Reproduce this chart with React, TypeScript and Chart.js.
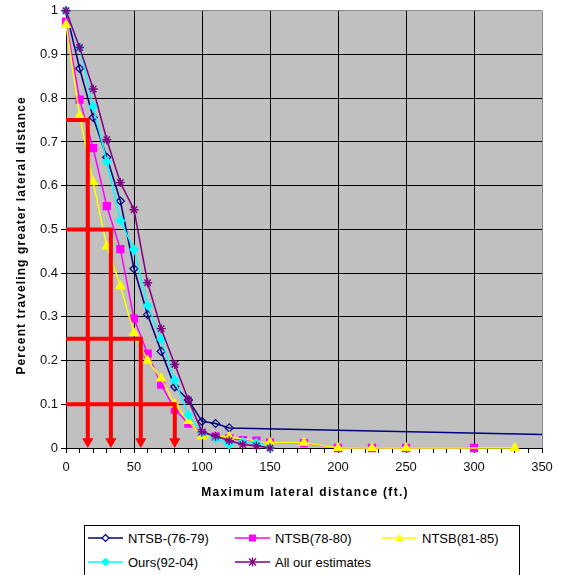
import React, { useEffect, useRef } from "react";
import { Chart, registerables } from "chart.js";
Chart.register(...registerables);

// ---- data ----
const xNTSB7679 = [0, 10, 20, 30, 40, 50, 60, 70, 80, 90, 100, 110, 120, 350];
const yNTSB7679 = [1.0, 0.868, 0.756, 0.665, 0.565, 0.41, 0.305, 0.221, 0.14, 0.11, 0.061, 0.056, 0.046, 0.031];

const xNTSB7880 = [0, 10, 20, 30, 40, 50, 60, 70, 80, 90, 100, 110, 120, 130, 140, 150, 175, 200, 225, 250, 300];
const yNTSB7880 = [0.975, 0.797, 0.686, 0.553, 0.455, 0.296, 0.216, 0.145, 0.088, 0.056, 0.034, 0.026, 0.022, 0.018, 0.017, 0.012, 0.011, 0, 0, 0, 0];

const xNTSB8185 = [0, 10, 20, 30, 40, 50, 60, 70, 80, 90, 100, 120, 150, 175, 200, 225, 250, 330];
const yNTSB8185 = [0.968, 0.76, 0.608, 0.461, 0.37, 0.263, 0.2, 0.159, 0.1, 0.062, 0.027, 0.025, 0.012, 0.012, 0, 0, 0, 0];

const xOurs = [0, 10, 20, 30, 40, 50, 60, 70, 80, 90, 100, 110, 120, 130, 140, 150];
const yOurs = [1.0, 0.916, 0.781, 0.655, 0.52, 0.454, 0.326, 0.249, 0.155, 0.075, 0.035, 0.022, 0.008, 0.015, 0.012, 0];

const xAll = [0, 10, 20, 30, 40, 50, 60, 70, 80, 90, 100, 110, 120, 130, 140, 150];
const yAll = [1.0, 0.916, 0.821, 0.705, 0.607, 0.545, 0.378, 0.273, 0.191, 0.11, 0.037, 0.027, 0.017, 0.008, 0.005, 0];

// red arrow guides: level and distance where each drops to the axis
const arrowLevels = [0.75, 0.5, 0.25, 0.1];
const arrowDistances = [16, 33, 55, 80];
const arrowTipValue = 0.015;

const seriesNames = ["NTSB-(76-79)", "NTSB(78-80)", "NTSB(81-85)", "Ours(92-04)", "All our estimates"];
const xTickValues = [0, 50, 100, 150, 200, 250, 300, 350];
const xTitle = "Maximum lateral distance (ft.)";
const yTitle = "Percent traveling greater lateral distance";

const NAVY = "#000080";
const MAGENTA = "#ff00ff";
const YELLOW = "#ffff00";
const CYAN = "#00ffff";
const PURPLE = "#800080";
const RED = "#ff0000";

const FONT = "'Liberation Sans', Arial, sans-serif";

const zip = (xs: number[], ys: number[]) => xs.map((x, i) => ({ x, y: ys[i] }));

const plotBg = {
  id: "plotBg",
  beforeDraw(chart: any) {
    const { ctx, chartArea } = chart;
    if (!chartArea) return;
    ctx.save();
    ctx.fillStyle = "#c0c0c0";
    ctx.fillRect(chartArea.left, chartArea.top, chartArea.right - chartArea.left, chartArea.bottom - chartArea.top);
    ctx.restore();
  },
};

// axis titles, drawn with the wide letter spacing of the original
const axisTitles = {
  id: "axisTitles",
  afterDraw(chart: any) {
    const { ctx, chartArea } = chart;
    if (!chartArea) return;
    ctx.save();
    ctx.font = `bold 12px ${FONT}`;
    ctx.fillStyle = "#000";
    ctx.textAlign = "center";
    ctx.textBaseline = "middle";
    (ctx as any).letterSpacing = "1.3px";
    ctx.fillText(xTitle, (chartArea.left + chartArea.right) / 2 + 1, chartArea.bottom + 45);
    (ctx as any).letterSpacing = "1.1px";
    ctx.translate(22, (chartArea.top + chartArea.bottom) / 2 + 6);
    ctx.rotate(-Math.PI / 2);
    ctx.fillText(yTitle, 0, 0);
    ctx.restore();
  },
};

function LegendMarker({ kind, color }: { kind: string; color: string }) {
  const cx = 17.5;
  const cy = 8;
  let marker: any = null;
  if (kind === "diamondHollow") {
    marker = <polygon points={`${cx},${cy - 3.5} ${cx + 3.5},${cy} ${cx},${cy + 3.5} ${cx - 3.5},${cy}`} fill="#fff" stroke={color} strokeWidth={1.2} />;
  } else if (kind === "diamond") {
    marker = <polygon points={`${cx},${cy - 4} ${cx + 4},${cy} ${cx},${cy + 4} ${cx - 4},${cy}`} fill={color} stroke={color} strokeWidth={1} />;
  } else if (kind === "square") {
    marker = <rect x={cx - 3.5} y={cy - 3.5} width={7} height={7} fill={color} />;
  } else if (kind === "triangle") {
    marker = <polygon points={`${cx},${cy - 4.5} ${cx + 4.3},${cy + 3} ${cx - 4.3},${cy + 3}`} fill={color} />;
  } else if (kind === "star") {
    marker = (
      <g stroke={color} strokeWidth={1.4}>
        <line x1={cx} y1={cy - 4.5} x2={cx} y2={cy + 4.5} />
        <line x1={cx - 3.5} y1={cy - 3.5} x2={cx + 3.5} y2={cy + 3.5} />
        <line x1={cx - 3.5} y1={cy + 3.5} x2={cx + 3.5} y2={cy - 3.5} />
      </g>
    );
  }
  return (
    <svg width={36} height={16} style={{ display: "block" }}>
      <line x1={0} y1={cy} x2={35} y2={cy} stroke={color} strokeWidth={1.5} />
      {marker}
    </svg>
  );
}

const legendItems = [
  { name: seriesNames[0], kind: "diamondHollow", color: NAVY, col: 0, row: 0 },
  { name: seriesNames[1], kind: "square", color: MAGENTA, col: 1, row: 0 },
  { name: seriesNames[2], kind: "triangle", color: YELLOW, col: 2, row: 0 },
  { name: seriesNames[3], kind: "diamond", color: CYAN, col: 0, row: 1 },
  { name: seriesNames[4], kind: "star", color: PURPLE, col: 1, row: 1 },
];
const colLeft = [3, 150, 297];
const rowTop = [4, 28];

export default function App() {
  const ref = useRef<HTMLCanvasElement | null>(null);

  useEffect(() => {
    if (!ref.current) return;
    const lineCommon = {
      showLine: true,
      tension: 0,
      borderWidth: 1.5,
      clip: false as any,
      pointBorderWidth: 1.2,
    };
    const datasets: any[] = [];
    arrowLevels.forEach((lvl, i) => {
      datasets.push({
        label: "arrow" + i,
        data: [
          { x: 0, y: lvl },
          { x: arrowDistances[i], y: lvl },
          { x: arrowDistances[i], y: arrowTipValue },
        ],
        showLine: true,
        borderColor: RED,
        backgroundColor: RED,
        borderWidth: 4,
        borderJoinStyle: "miter",
        borderCapStyle: "butt",
        pointRadius: [0, 0, 6.5],
        pointStyle: "triangle",
        rotation: 180,
        pointBorderWidth: 0,
        pointBackgroundColor: RED,
        pointBorderColor: RED,
        clip: false,
        order: 0,
      });
    });
    datasets.push(
      {
        ...lineCommon,
        label: seriesNames[0],
        data: zip(xNTSB7679, yNTSB7679),
        borderColor: NAVY,
        backgroundColor: "rgba(0,0,0,0)",
        pointStyle: "rectRot",
        pointRadius: xNTSB7679.map((_, i) => (i === xNTSB7679.length - 1 ? 0 : 4)),
        pointBorderColor: NAVY,
        pointBackgroundColor: "rgba(0,0,0,0)",
        order: 5,
      },
      {
        ...lineCommon,
        label: seriesNames[1],
        data: zip(xNTSB7880, yNTSB7880),
        borderColor: MAGENTA,
        backgroundColor: MAGENTA,
        pointStyle: "rect",
        pointRadius: 5,
        pointBorderColor: MAGENTA,
        pointBackgroundColor: MAGENTA,
        order: 4,
      },
      {
        ...lineCommon,
        label: seriesNames[2],
        data: zip(xNTSB8185, yNTSB8185),
        borderColor: YELLOW,
        backgroundColor: YELLOW,
        pointStyle: "triangle",
        pointRadius: 5,
        pointBorderColor: YELLOW,
        pointBackgroundColor: YELLOW,
        order: 3,
      },
      {
        ...lineCommon,
        label: seriesNames[3],
        data: zip(xOurs, yOurs),
        borderColor: CYAN,
        backgroundColor: CYAN,
        pointStyle: "rectRot",
        pointRadius: 4.2,
        pointBorderColor: CYAN,
        pointBackgroundColor: CYAN,
        order: 2,
      },
      {
        ...lineCommon,
        label: seriesNames[4],
        data: zip(xAll, yAll),
        borderColor: PURPLE,
        backgroundColor: PURPLE,
        pointStyle: "star",
        pointRadius: 4.5,
        pointBorderWidth: 1.4,
        pointBorderColor: PURPLE,
        order: 1,
      }
    );

    const chart = new Chart(ref.current, {
      type: "scatter",
      data: { datasets },
      options: {
        responsive: false,
        animation: false,
        events: [],
        layout: { padding: { top: 10, right: 24, left: 0, bottom: 0 } },
        plugins: { legend: { display: false }, tooltip: { enabled: false } },
        scales: {
          x: {
            type: "linear",
            min: 0,
            max: 350,
            afterFit: (s: any) => {
              s.height = 52;
            },
            afterBuildTicks: (s: any) => {
              const t: any[] = [];
              for (let v = 0; v <= 350; v += 10) t.push({ value: v });
              s.ticks = t;
            },
            ticks: {
              autoSkip: false,
              maxRotation: 0,
              padding: 7,
              color: "#111",
              font: { family: FONT, size: 13 },
              callback: (v: any) => (xTickValues.includes(Number(v)) ? String(v) : ""),
            },
            grid: {
              color: (ctx: any) => {
                const v = ctx.tick ? ctx.tick.value : 0;
                if (v === 350) return "#8a8a8a";
                return v % 50 === 0 ? "#000" : "rgba(0,0,0,0)";
              },
              tickColor: "#000",
              tickLength: 5,
              lineWidth: 1,
            },
            border: { display: true, color: "#000", width: 1 },
            title: { display: false, text: xTitle },
          },
          y: {
            type: "linear",
            min: 0,
            max: 1,
            afterFit: (s: any) => {
              s.width = 66;
            },
            ticks: {
              stepSize: 0.1,
              padding: 3,
              color: "#111",
              font: { family: FONT, size: 13 },
              callback: (v: any) => String(Number(Number(v).toFixed(1))),
            },
            grid: {
              color: (ctx: any) => {
                const v = ctx.tick ? ctx.tick.value : 0;
                if (Math.abs(v - 1) < 1e-6) return "#8a8a8a";
                return "#000";
              },
              tickColor: "#000",
              tickLength: 5,
              lineWidth: 1,
            },
            border: { display: true, color: "#000", width: 1 },
            title: { display: false, text: yTitle },
          },
        },
      } as any,
      plugins: [plotBg, axisTitles],
    });
    return () => chart.destroy();
  }, []);

  return (
    <div style={{ position: "fixed", left: 0, top: 0, width: 566, height: 575, background: "#fff", overflow: "hidden" }}>
      <canvas ref={ref} width={566} height={500} style={{ position: "absolute", left: 0, top: 0, width: 566, height: 500 }} />
      <div
        style={{
          position: "absolute",
          left: 84,
          top: 525,
          width: 436,
          height: 70,
          border: "1px solid #000",
          background: "#fff",
          boxSizing: "border-box",
          fontFamily: FONT,
          fontSize: 13,
          color: "#000",
        }}
      >
        {legendItems.map((it) => (
          <div
            key={it.name}
            style={{
              position: "absolute",
              left: colLeft[it.col],
              top: rowTop[it.row],
              display: "flex",
              alignItems: "center",
              whiteSpace: "nowrap",
              height: 16,
            }}
          >
            <LegendMarker kind={it.kind} color={it.color} />
            <span style={{ marginLeft: 4 }}>{it.name}</span>
          </div>
        ))}
      </div>
    </div>
  );
}
